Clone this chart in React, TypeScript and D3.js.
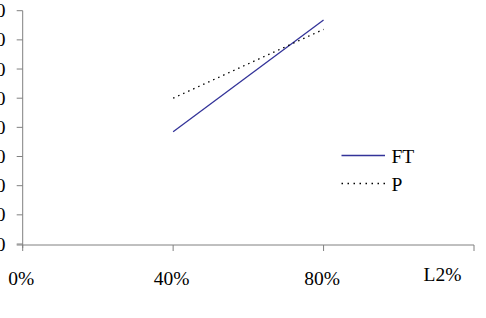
import React from "react";
import * as d3 from "d3";

const xValues = [0.4, 0.8];
const ftValues = [38.5, 76.8];
const pValues = [50.0, 73.6];
const yTicks = [0, 10, 20, 30, 40, 50, 60, 70, 80];
const xTicks = [0, 0.4, 0.8, 1.2];
const xTickLabels = ["0%", "40%", "80%", ""];
const seriesNames = ["FT", "P"];
const xAxisTitle = "L2%";

export default function App() {
  const W = 486, H = 318;
  const x = d3.scaleLinear().domain([0, 1.2]).range([22.7, 474]);
  const y = d3.scaleLinear().domain([0, 80]).range([244, 10.7]);
  const line = d3.line<[number, number]>().x(d => x(d[0])).y(d => y(d[1]));
  const ft = xValues.map((v, i) => [v, ftValues[i]] as [number, number]);
  const p = xValues.map((v, i) => [v, pValues[i]] as [number, number]);
  const font = "'Liberation Serif', 'Times New Roman', serif";
  const fs = 19.5;
  return (
    <svg width={W} height={H} style={{ position: "absolute", left: 0, top: 0, background: "#fff" }} fontFamily={font}>
      {/* y axis */}
      <line x1={x(0)} x2={x(0)} y1={y(80)} y2={y(0) + 4} stroke="#808080" strokeWidth={1} />
      {yTicks.map(t => (
        <g key={t}>
          <line x1={x(0) - 6} x2={x(0)} y1={y(t)} y2={y(t)} stroke="#808080" />
          <text x={5.5} y={y(t) + 6.5} textAnchor="end" fontSize={fs} fill="#000">{t}</text>
        </g>
      ))}
      {/* x axis */}
      <line x1={x(0) - 6} x2={x(1.2)} y1={y(0) + 1} y2={y(0) + 1} stroke="#808080" />
      {xTicks.map((t, i) => (
        <g key={t}>
          <line x1={x(t)} x2={x(t)} y1={y(0) + 1} y2={y(0) + 7} stroke="#808080" />
          <text x={x(t) - 1.5} y={285} textAnchor="middle" fontSize={fs} fill="#000">{xTickLabels[i]}</text>
        </g>
      ))}
      <text x={442.5} y={281} textAnchor="middle" fontSize={fs} fill="#000">{xAxisTitle}</text>
      {/* series */}
      <path d={line(ft) || ""} fill="none" stroke="#333399" strokeWidth={1.3} />
      <path d={line(p) || ""} fill="none" stroke="#000" strokeWidth={1.3} strokeDasharray="1.5,4" />
      {/* legend */}
      <line x1={341.5} x2={385} y1={155.5} y2={155.5} stroke="#333399" strokeWidth={1.3} />
      <text x={391.5} y={162.5} fontSize={fs} fill="#000">{seriesNames[0]}</text>
      <line x1={341.5} x2={385} y1={183.5} y2={183.5} stroke="#000" strokeWidth={1.3} strokeDasharray="1.5,4.5" />
      <text x={391.5} y={190.5} fontSize={fs} fill="#000">{seriesNames[1]}</text>
    </svg>
  );
}
